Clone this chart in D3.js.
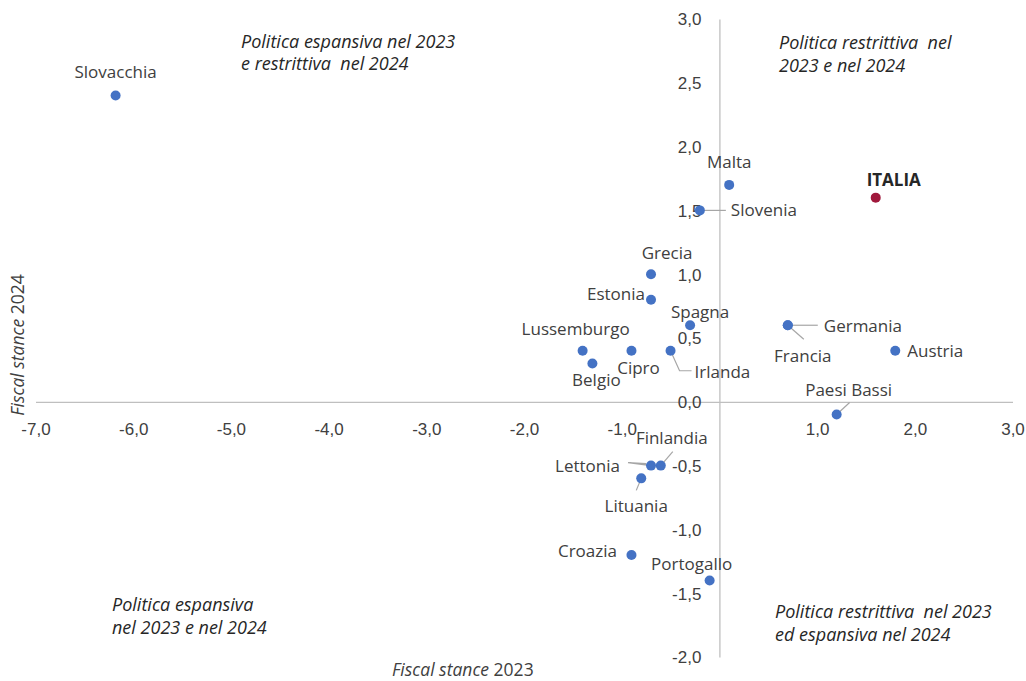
<!DOCTYPE html>
<html>
<head>
<meta charset="utf-8">
<script src="https://cdn.jsdelivr.net/npm/d3@7"></script>
<style>
  html, body { margin: 0; padding: 0; background: #fff; }
  svg { display: block; font-family: "Open Sans", "Noto Sans", sans-serif; }
</style>
</head>
<body>
<svg id="chart" width="1026" height="681"></svg>
<script>
// Fiscal stance by country: 2023 (x) vs 2024 (y)
const countries = ["Slovacchia","Malta","ITALIA","Slovenia","Grecia","Estonia","Spagna","Germania","Francia","Austria","Lussemburgo","Cipro","Irlanda","Belgio","Paesi Bassi","Finlandia","Lettonia","Lituania","Croazia","Portogallo"];
const stance2023 = [-6.18, 0.1, 1.6, -0.2, -0.7, -0.7, -0.3, 0.7, 0.7, 1.8, -1.4, -0.9, -0.5, -1.3, 1.2, -0.6, -0.7, -0.8, -0.9, -0.1];
const stance2024 = [2.4, 1.7, 1.6, 1.5, 1.0, 0.8, 0.6, 0.6, 0.6, 0.4, 0.4, 0.4, 0.4, 0.3, -0.1, -0.5, -0.5, -0.6, -1.2, -1.4];
const xTicks = [-7, -6, -5, -4, -3, -2, -1, 0, 1, 2, 3];
const yTicks = [-2, -1.5, -1, -0.5, 0, 0.5, 1, 1.5, 2, 2.5, 3];

// label placement: offset of the label anchor from its point, text anchor,
// and optional leader-line vertices (relative to the point)
const labelPos = {
  "Slovacchia":  {dx: 0,   dy: -24, anchor: "middle"},
  "Malta":       {dx: 0,   dy: -23, anchor: "middle"},
  "ITALIA":      {dx: 18,  dy: -18, anchor: "middle"},
  "Slovenia":    {dx: 31,  dy: 0,   anchor: "start", leader: [26, 0]},
  "Grecia":      {dx: 16,  dy: -21, anchor: "middle"},
  "Estonia":     {dx: -6,  dy: -6,  anchor: "end"},
  "Spagna":      {dx: 10,  dy: -13, anchor: "middle"},
  "Germania":    {dx: 36,  dy: 1,   anchor: "start", leader: [30, 0]},
  "Francia":     {dx: 15,  dy: 31,  anchor: "middle", leader: [16, 14]},
  "Austria":     {dx: 12,  dy: 0,   anchor: "start"},
  "Lussemburgo": {dx: -7,  dy: -22, anchor: "middle"},
  "Cipro":       {dx: 7,   dy: 17,  anchor: "middle"},
  "Irlanda":     {dx: 24,  dy: 21,  anchor: "start", leader: [9, 20, 21, 20]},
  "Belgio":      {dx: 4,   dy: 17,  anchor: "middle"},
  "Paesi Bassi": {dx: 12,  dy: -25, anchor: "middle", leader: [13, -12]},
  "Finlandia":   {dx: 11,  dy: -28, anchor: "middle", leader: [12, -14]},
  "Lettonia":    {dx: -31, dy: 0,   anchor: "end", leader: [-23, -3, -5, -2]},
  "Lituania":    {dx: -5,  dy: 28,  anchor: "middle", leader: [-5, 12]},
  "Croazia":     {dx: -44, dy: -4,  anchor: "middle"},
  "Portogallo":  {dx: -18, dy: -16, anchor: "middle"}
};

const svg = d3.select("#chart");
const x = d3.scaleLinear().domain([-7, 3]).range([35.5, 1012.5]);
const y = d3.scaleLinear().domain([-2, 3]).range([657, 19]);
const fmt = v => d3.format(".1f")(v).replace(".", ",").replace("−", "-");

const axisColor = "#bfbfbf";
const textColor = "#404040";

// axes crossing at the origin
const xAxis = svg.append("g").attr("transform", `translate(0,${y(0)})`)
  .call(d3.axisBottom(x).tickValues(xTicks).tickSize(0).tickFormat(fmt));
xAxis.select(".domain").attr("stroke", axisColor).attr("stroke-width", 1.3);
xAxis.selectAll("text").attr("dy", 0).attr("y", 33).attr("fill", textColor)
  .style("font-size", "17px");
xAxis.selectAll(".tick").filter(d => d === 0).remove();

const yAxis = svg.append("g").attr("transform", `translate(${x(0)},0)`)
  .call(d3.axisLeft(y).tickValues(yTicks).tickSize(0).tickFormat(fmt));
yAxis.select(".domain").attr("stroke", axisColor).attr("stroke-width", 1.3);
yAxis.selectAll("text").attr("x", -18).attr("dy", "0.35em").attr("fill", textColor)
  .style("font-size", "17px");

const data = countries.map((c, i) => ({name: c, x: stance2023[i], y: stance2024[i]}));

// leader lines
svg.append("g").selectAll("polyline")
  .data(data.filter(d => labelPos[d.name].leader))
  .join("polyline")
  .attr("points", d => {
    const px = x(d.x), py = y(d.y), l = labelPos[d.name].leader;
    const pts = [[px, py]];
    for (let k = 0; k < l.length; k += 2) pts.push([px + l[k], py + l[k + 1]]);
    return pts.map(p => p.join(",")).join(" ");
  })
  .attr("fill", "none").attr("stroke", "#a6a6a6").attr("stroke-width", 1.2);

// points
svg.append("g").selectAll("circle")
  .data(data)
  .join("circle")
  .attr("cx", d => x(d.x))
  .attr("cy", d => y(d.y))
  .attr("r", 5)
  .attr("fill", d => d.name === "ITALIA" ? "#A0183C" : "#4472C4");

// point labels
svg.append("g").selectAll("text")
  .data(data)
  .join("text")
  .attr("x", d => x(d.x) + labelPos[d.name].dx)
  .attr("y", d => y(d.y) + labelPos[d.name].dy)
  .attr("dy", "0.35em")
  .attr("text-anchor", d => labelPos[d.name].anchor)
  .attr("fill", d => d.name === "ITALIA" ? "#262626" : textColor)
  .attr("font-weight", d => d.name === "ITALIA" ? "bold" : "normal")
  .style("font-size", "17px")
  .text(d => d.name);

// quadrant notes
const notes = [
  {x: 241, y: [42, 64], lines: ["Politica espansiva nel 2023", "e restrittiva  nel 2024"]},
  {x: 779, y: [43, 66], lines: ["Politica restrittiva  nel", "2023 e nel 2024"]},
  {x: 112, y: [605, 628], lines: ["Politica espansiva", "nel 2023 e nel 2024"]},
  {x: 775, y: [612, 635], lines: ["Politica restrittiva  nel 2023", "ed espansiva nel 2024"]}
];
notes.forEach(n => {
  n.lines.forEach((ln, i) => {
    svg.append("text").attr("x", n.x).attr("y", n.y[i]).attr("dy", "0.35em")
      .attr("fill", "#262626").style("font-size", "18px").style("font-style", "italic")
      .style("white-space", "pre").text(ln);
  });
});

// axis titles
const xt = svg.append("text").attr("x", 392).attr("y", 670).attr("dy", "0.35em")
  .attr("fill", textColor).style("font-size", "17.5px");
xt.append("tspan").style("font-style", "italic").text("Fiscal stance ");
xt.append("tspan").text("2023");

const yt = svg.append("text").attr("transform", "translate(18,345) rotate(-90)")
  .attr("text-anchor", "middle").attr("dy", "0.35em")
  .attr("fill", textColor).style("font-size", "17.5px");
yt.append("tspan").style("font-style", "italic").text("Fiscal stance ");
yt.append("tspan").text("2024");
</script>
</body>
</html>
